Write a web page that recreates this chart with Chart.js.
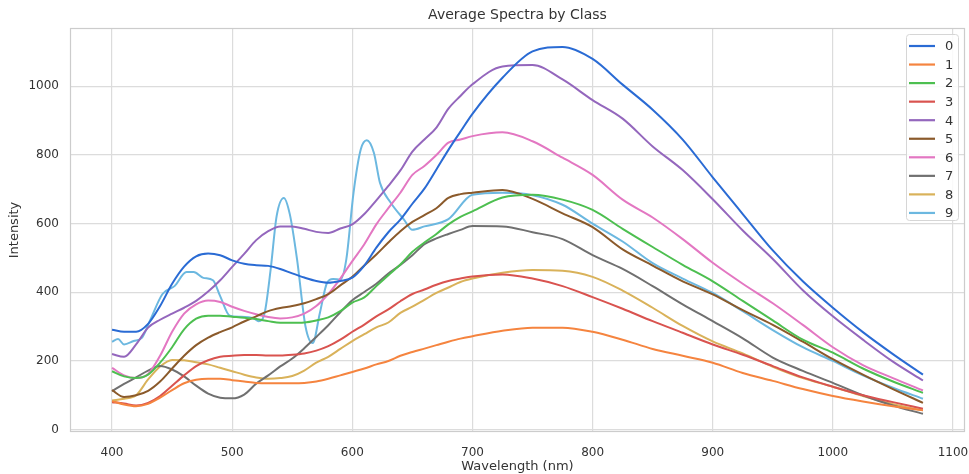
<!DOCTYPE html>
<html>
<head>
<meta charset="utf-8">
<script src="https://cdn.jsdelivr.net/npm/chart.js@4.4.1/dist/chart.umd.min.js"></script>
<style>
  html, body { margin: 0; padding: 0; background: #ffffff; }
  #wrap { width: 969px; height: 474px; }
</style>
</head>
<body>
<div id="wrap"><canvas id="spectra" width="969" height="474"></canvas></div>
<script>
/* Average spectra per class */

var WL = [400, 410, 420, 430, 440, 450, 460, 470, 480, 490,
          500, 510, 520, 530, 540, 550, 560, 570, 580, 590,
          600, 610, 620, 630, 640, 650, 660, 670, 680, 690,
          700, 725, 750, 775, 800, 825, 850, 875, 900, 925,
          950, 975, 1000, 1025, 1050, 1075];

var C0 = [291, 285, 285, 308, 360, 425, 475, 505, 513, 508,
          493, 483, 479, 477, 468, 455, 443, 433, 428, 433,
          443, 478, 530, 575, 612, 658, 702, 758, 815, 868,
          920, 1025, 1102, 1115, 1080, 1005, 932, 845, 735, 628,
          522, 432, 355, 284, 220, 160];
var C1 = [83, 73, 68, 75, 93, 115, 135, 145, 148, 148,
          144, 140, 136, 135, 135, 135, 136, 140, 148, 158,
          168, 178, 190, 200, 215, 226, 236, 246, 256, 265,
          272, 288, 297, 297, 285, 262, 235, 215, 195, 165,
          142, 118, 98, 82, 68, 56];
var C2 = [170, 155, 150, 160, 195, 240, 292, 323, 332, 332,
          329, 326, 322, 316, 311, 311, 312, 318, 327, 345,
          370, 385, 418, 450, 481, 518, 545, 570, 598, 620,
          636, 676, 684, 670, 640, 585, 532, 480, 432, 375,
          318, 262, 224, 178, 140, 107];
var C3 = [80, 76, 70, 78, 98, 128, 158, 185, 202, 212,
          215, 217, 217, 216, 216, 218, 222, 230, 243, 262,
          285, 306, 330, 350, 374, 395, 408, 422, 433, 440,
          446, 452, 440, 418, 386, 352, 316, 282, 248, 218,
          185, 152, 125, 100, 80, 61];
var C4 = [220, 212, 248, 297, 320, 338, 355, 375, 402, 435,
          474, 512, 552, 578, 592, 592, 585, 576, 573, 586,
          598, 628, 668, 710, 755, 810, 845, 880, 935, 972,
          1006, 1058, 1062, 1020, 960, 906, 825, 756, 671, 580,
          497, 406, 330, 262, 198, 143];
var C5 = [115, 95, 100, 113, 140, 178, 215, 246, 268, 284,
          298, 315, 330, 345, 354, 360, 368, 380, 395, 420,
          445, 478, 510, 545, 578, 605, 625, 645, 675, 686,
          690, 698, 672, 630, 590, 525, 478, 432, 394, 348,
          305, 256, 205, 160, 118, 78];
var C6 = [180, 158, 150, 162, 215, 285, 338, 365, 376, 372,
          358, 346, 336, 328, 324, 327, 338, 360, 395, 440,
          491, 540, 598, 645, 690, 742, 768, 800, 836, 845,
          855, 866, 840, 792, 742, 670, 618, 555, 486, 425,
          368, 305, 240, 188, 150, 114];
var C7 = [112, 133, 152, 172, 185, 175, 155, 128, 105, 93,
          91, 102, 134, 158, 184, 207, 237, 270, 304, 342,
          377, 401, 425, 455, 480, 508, 540, 557, 570, 582,
          593, 592, 575, 555, 508, 468, 418, 365, 316, 266,
          210, 171, 136, 100, 70, 46];
var C8 = [85, 90, 100, 146, 184, 203, 202, 196, 190, 180,
          170, 160, 152, 148, 150, 156, 172, 195, 212, 235,
          258, 278, 298, 312, 340, 358, 378, 398, 414, 430,
          440, 457, 465, 463, 445, 405, 355, 302, 257, 222,
          183, 150, 125, 98, 74, 56];

// class 9 has two narrow peaks, so it gets its own, denser wavelength list
var WL9 = [400, 405, 410, 418, 425, 432, 442, 452, 462, 468,
           476, 484, 490, 498, 507, 518, 522, 527, 532, 537,
           543, 548, 554, 561, 567, 573, 579, 584, 590, 595,
           601, 607, 612, 618, 623, 632, 643, 650, 660, 680,
           700, 725, 750, 775, 800, 825, 850, 875, 900, 925,
           950, 975, 1000, 1025, 1050, 1075];
var C9 = [256, 264, 248, 258, 268, 321, 395, 418, 459, 459,
          442, 435, 389, 332, 329, 324, 316, 340, 466, 622,
          675, 627, 496, 301, 252, 340, 428, 439, 437, 496,
          690, 816, 843, 806, 719, 661, 612, 582, 592, 613,
          684, 690, 683, 655, 600, 548, 485, 440, 398, 345,
          290, 240, 200, 158, 122, 90];

var CLASSES = ['0', '1', '2', '3', '4', '5', '6', '7', '8', '9'];
var X_TICKS = [400, 500, 600, 700, 800, 900, 1000, 1100];
var Y_TICKS = [0, 200, 400, 600, 800, 1000];

var COLORS = ['#2a6bd4', '#f5843f', '#4dbf50', '#d9534f', '#9467bd',
              '#8b5a2b', '#e377c2', '#707070', '#d9b25a', '#6cb8e0'];

var TITLE = 'Average Spectra by Class';
var INK   = '#333333';
var GRID  = '#dcdcdc';
var FRAME = '#cccccc';
var FONT  = '"DejaVu Sans", sans-serif';

function pairs(xs, ys) {
  return xs.map(function(x, i) { return { x: x, y: ys[i] }; });
}

var series = [C0, C1, C2, C3, C4, C5, C6, C7, C8, C9];
var datasets = series.map(function(vals, i) {
  return {
    label: CLASSES[i],
    data: pairs(i === 9 ? WL9 : WL, vals),
    borderColor: COLORS[i],
    backgroundColor: COLORS[i],
    borderWidth: 2,
    pointRadius: 0,
    fill: false,
    cubicInterpolationMode: 'monotone'
  };
});

/* title over the plot, frame round it, legend box in the top right corner */
var framePlugin = {
  id: 'frame',
  afterDraw: function(chart) {
    var ctx = chart.ctx, a = chart.chartArea;
    ctx.save();
    ctx.strokeStyle = FRAME;
    ctx.lineWidth = 1.2;
    ctx.strokeRect(a.left + 0.5, a.top + 0.5, a.right - a.left - 1, a.bottom - a.top - 1);

    ctx.fillStyle = INK;
    ctx.font = '14px ' + FONT;
    ctx.textAlign = 'center';
    ctx.textBaseline = 'middle';
    ctx.fillText(TITLE, (a.left + a.right) / 2, 15);

    var bx = a.right - 59, by = a.top + 6, bw = 52, bh = 186;
    ctx.fillStyle = 'rgba(255,255,255,0.85)';
    ctx.strokeStyle = '#d6d6d6';
    ctx.lineWidth = 1;
    ctx.beginPath();
    if (ctx.roundRect) ctx.roundRect(bx + 0.5, by + 0.5, bw, bh, 3);
    else ctx.rect(bx + 0.5, by + 0.5, bw, bh);
    ctx.fill();
    ctx.stroke();

    ctx.font = '13px ' + FONT;
    ctx.textAlign = 'left';
    chart.data.datasets.forEach(function(ds, i) {
      var yy = by + 12 + i * 18.55;
      ctx.strokeStyle = ds.borderColor;
      ctx.lineWidth = 2.2;
      ctx.beginPath();
      ctx.moveTo(bx + 3, yy);
      ctx.lineTo(bx + 29, yy);
      ctx.stroke();
      ctx.fillStyle = INK;
      ctx.fillText(ds.label, bx + 39, yy + 1);
    });
    ctx.restore();
  }
};

var tickFont = { family: FONT, size: 12 };

new Chart(document.getElementById('spectra'), {
  type: 'line',
  data: { datasets: datasets },
  plugins: [framePlugin],
  options: {
    responsive: false,
    animation: false,
    layout: { padding: { left: 0, right: 4, top: 28, bottom: 0 } },
    plugins: {
      legend: { display: false },
      tooltip: { enabled: false },
      title: { display: false }
    },
    scales: {
      x: {
        type: 'linear',
        min: 365,
        max: 1110,
        afterBuildTicks: function(scale) {
          scale.ticks = X_TICKS.map(function(v) { return { value: v }; });
        },
        afterFit: function(scale) {
          scale.height = 42;
          scale.paddingRight = 0;
        },
        grid: { color: GRID, lineWidth: 1.2, drawTicks: false },
        border: { display: false },
        ticks: {
          color: INK, font: tickFont, padding: 14, maxRotation: 0,
          callback: function(v) { return String(v); }
        },
        title: {
          display: true, text: 'Wavelength (nm)', color: INK,
          font: { family: FONT, size: 13 }, padding: { top: 0, bottom: 0 }
        }
      },
      y: {
        type: 'linear',
        min: -7,
        max: 1170,
        afterBuildTicks: function(scale) {
          scale.ticks = Y_TICKS.map(function(v) { return { value: v }; });
        },
        afterFit: function(scale) { scale.width = 70; },
        grid: { color: GRID, lineWidth: 1.2, drawTicks: false },
        border: { display: false },
        ticks: {
          color: INK, font: tickFont, padding: 11,
          callback: function(v) { return String(v); }
        },
        title: {
          display: true, text: 'Intensity', color: INK,
          font: { family: FONT, size: 13 }, padding: { top: 7, bottom: 0 }
        }
      }
    }
  }
});
</script>
</body>
</html>
